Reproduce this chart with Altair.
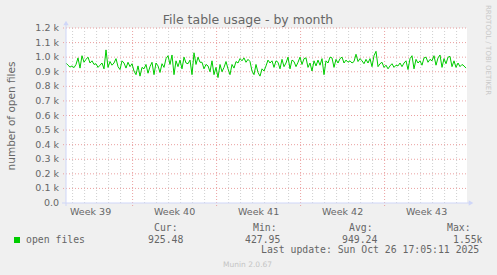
import altair as alt
import pandas as pd

# ---- data ----
# open files, one sample every 4 hours (1/6 day) across the month window
open_files = [
    960, 945, 932, 940, 928, 950, 995, 925, 1010, 965,
    985, 1000, 960, 975, 950, 955, 930, 945, 960, 920,
    1050, 930, 970, 945, 960, 990, 935, 915, 975, 960,
    925, 965, 935, 955, 905, 880, 940, 870, 930, 920,
    950, 890, 935, 965, 880, 960, 940, 895, 955, 930,
    990, 1010, 950, 1015, 880, 975, 935, 980, 920, 1000,
    960, 955, 980, 880, 1030, 950, 1000, 965, 965, 920,
    950, 940, 900, 975, 880, 930, 860, 950, 900, 930,
    970, 920, 880, 950, 925, 970, 960, 990, 975, 995,
    965, 985, 970, 905, 880, 950, 895, 870, 920, 905,
    940, 980, 960, 975, 930, 975, 965, 920, 985, 935,
    960, 1000, 920, 980, 970, 935, 965, 1000, 950, 990,
    995, 930, 960, 905, 975, 940, 980, 945, 990, 880,
    975, 960, 1000, 995, 930, 985, 960, 990, 1000, 960,
    980, 965, 975, 960, 970, 1020, 970, 990, 975, 955,
    985, 960, 990, 935, 1010, 1040, 935, 955, 965, 930,
    945, 920, 940, 955, 930, 945, 940, 960, 935, 960,
    975, 915, 990, 1010, 920, 985, 960, 975, 945, 995,
    1000, 965, 985, 975, 1010, 945, 995, 1015, 930, 990,
    955, 1000, 1005, 935, 975, 930, 960, 935, 950, 940,
    925,
]
sample_step_days = 1 / 6
x_domain_days = [0, 401 / 12]

day_lines = [0.55 + k for k in range(33)]          # minor (daily) grid
week_lines = [5.55, 12.55, 19.55, 26.55]           # major (weekly) grid
week_label_pos = [2.05, 9.05, 16.05, 23.05, 30.05]
week_labels = ["Week 39", "Week 40", "Week 41", "Week 42", "Week 43"]
y_ticks = [0, 100, 200, 300, 400, 500, 600, 700, 800, 900, 1000, 1100, 1200]

series_name = "open files"
stat_names = ["Cur:", "Min:", "Avg:", "Max:"]
stat_values = ["925.48", "427.95", "949.24", "1.55k"]
last_update = "Last update: Sun Oct 26 17:05:11 2025"

# ---- styling ----
PL, PT = 66, 28          # plot origin in page pixels
W, H = 401, 175
FONT = "DejaVu Sans"
MONO = "DejaVu Sans Mono"
TXT = "#666666"
AXIS_C = "#CFD6F8"
MGRID = "#EBA0A0"
GRID = "#CFCFCF"
GREEN = "#00CC00"

df = pd.DataFrame({
    "day": [i * sample_step_days for i in range(len(open_files))],
    "files": open_files,
})

xscale = alt.Scale(domain=x_domain_days, nice=False, zero=False)
yscale = alt.Scale(domain=[0, 1200], nice=False)

minor = alt.Chart(pd.DataFrame({"d": [d for d in day_lines if d not in week_lines]})).mark_rule(
    color=GRID, strokeDash=[1, 2], strokeWidth=1
).encode(x=alt.X("d:Q", scale=xscale, axis=None), y=alt.value(0), y2=alt.value(H + 2))

ygrid = alt.Chart(pd.DataFrame({"v": y_ticks[1:]})).mark_rule(
    color=MGRID, strokeDash=[1, 2], strokeWidth=1
).encode(y=alt.Y("v:Q", scale=yscale, axis=None), x=alt.value(-3), x2=alt.value(W))

major = alt.Chart(pd.DataFrame({"d": week_lines})).mark_rule(
    color=MGRID, strokeDash=[1, 2], strokeWidth=1
).encode(x=alt.X("d:Q", scale=xscale, axis=None), y=alt.value(0), y2=alt.value(H + 3))

yaxis = alt.Chart(pd.DataFrame({"v": y_ticks})).mark_text(
    align="right", baseline="middle", font=FONT, fontSize=9.5, color=TXT
).encode(
    y=alt.Y("v:Q", scale=yscale, axis=None),
    x=alt.value(-7),
    text=alt.Text("lab:N"),
).transform_calculate(
    lab="datum.v == 0 ? '0.0' : format(datum.v / 1000, '.1f') + ' k'"
)

line = alt.Chart(df).mark_line(color=GREEN, strokeWidth=1, interpolate="linear").encode(
    x=alt.X("day:Q", scale=xscale, axis=None),
    y=alt.Y("files:Q", scale=yscale, axis=None),
)

weeks = alt.Chart(pd.DataFrame({"p": week_label_pos, "t": week_labels})).mark_text(
    align="center", baseline="alphabetic", font=FONT, fontSize=9.5, color=TXT
).encode(x=alt.X("p:Q", scale=xscale, axis=None), y=alt.value(215 - PT), text="t:N")

one = pd.DataFrame({"k": [0]})
xline = alt.Chart(one).mark_rule(color=AXIS_C, strokeWidth=1).encode(
    x=alt.value(-4), x2=alt.value(W + 3), y=alt.value(H))
yline = alt.Chart(one).mark_rule(color=AXIS_C, strokeWidth=1).encode(
    y=alt.value(-4), y2=alt.value(H + 3), x=alt.value(0))
xarrow = alt.Chart(one).mark_point(shape="triangle-right", filled=True, color=AXIS_C, size=28, opacity=1).encode(
    x=alt.value(W + 4), y=alt.value(H))
yarrow = alt.Chart(one).mark_point(shape="triangle-up", filled=True, color=AXIS_C, size=28, opacity=1).encode(
    x=alt.value(0), y=alt.value(-5))


def txt(text, x, y, size, color=TXT, font=FONT, align="left", angle=0, baseline="alphabetic"):
    kw = dict(align=align, baseline=baseline, font=font, fontSize=size, color=color)
    if angle:
        kw["angle"] = angle
    return alt.Chart(pd.DataFrame({"t": [text]})).mark_text(**kw).encode(
        x=alt.value(x - PL), y=alt.value(y - PT), text="t:N")


texts = [
    txt("File table usage - by month", 248, 24, 12.5, align="center"),
    txt("number of open files", 15, 116, 10.5, align="center", angle=270),
    txt("RRDTOOL / TOBI OETIKER", 486, 5, 7, color="#C8C8C8", angle=90),
    txt(series_name, 26, 242.5, 9.8, font=MONO),
    txt(last_update, 261, 252.5, 9.8, font=MONO),
    txt("Munin 2.0.67", 223, 267, 7.5, color="#C4C4C4"),
]
stat_label_x = [154, 253, 349, 447]
stat_value_x = [148, 245, 342, 453]
for name, val, lx, vx in zip(stat_names, stat_values, stat_label_x, stat_value_x):
    texts.append(txt(name, lx, 231, 9.8, font=MONO))
    texts.append(txt(val, vx, 242.5, 9.8, font=MONO))

swatch = alt.Chart(one).mark_rect(color=GREEN).encode(
    x=alt.value(14 - PL), x2=alt.value(20 - PL), y=alt.value(237 - PT), y2=alt.value(243 - PT))

chart = alt.layer(
    minor, ygrid, major, line, xline, yline, xarrow, yarrow, yaxis, weeks, swatch, *texts
).properties(
    width=W, height=H,
    padding={"left": PL, "top": PT, "right": 497 - PL - W, "bottom": 275 - PT - H},
    autosize=alt.AutoSizeParams(type="none"),
    background="#F0F0F0",
).configure_view(stroke=None, fill="white")

chart.save("out.html", embed_options={"renderer": "svg", "actions": False})
